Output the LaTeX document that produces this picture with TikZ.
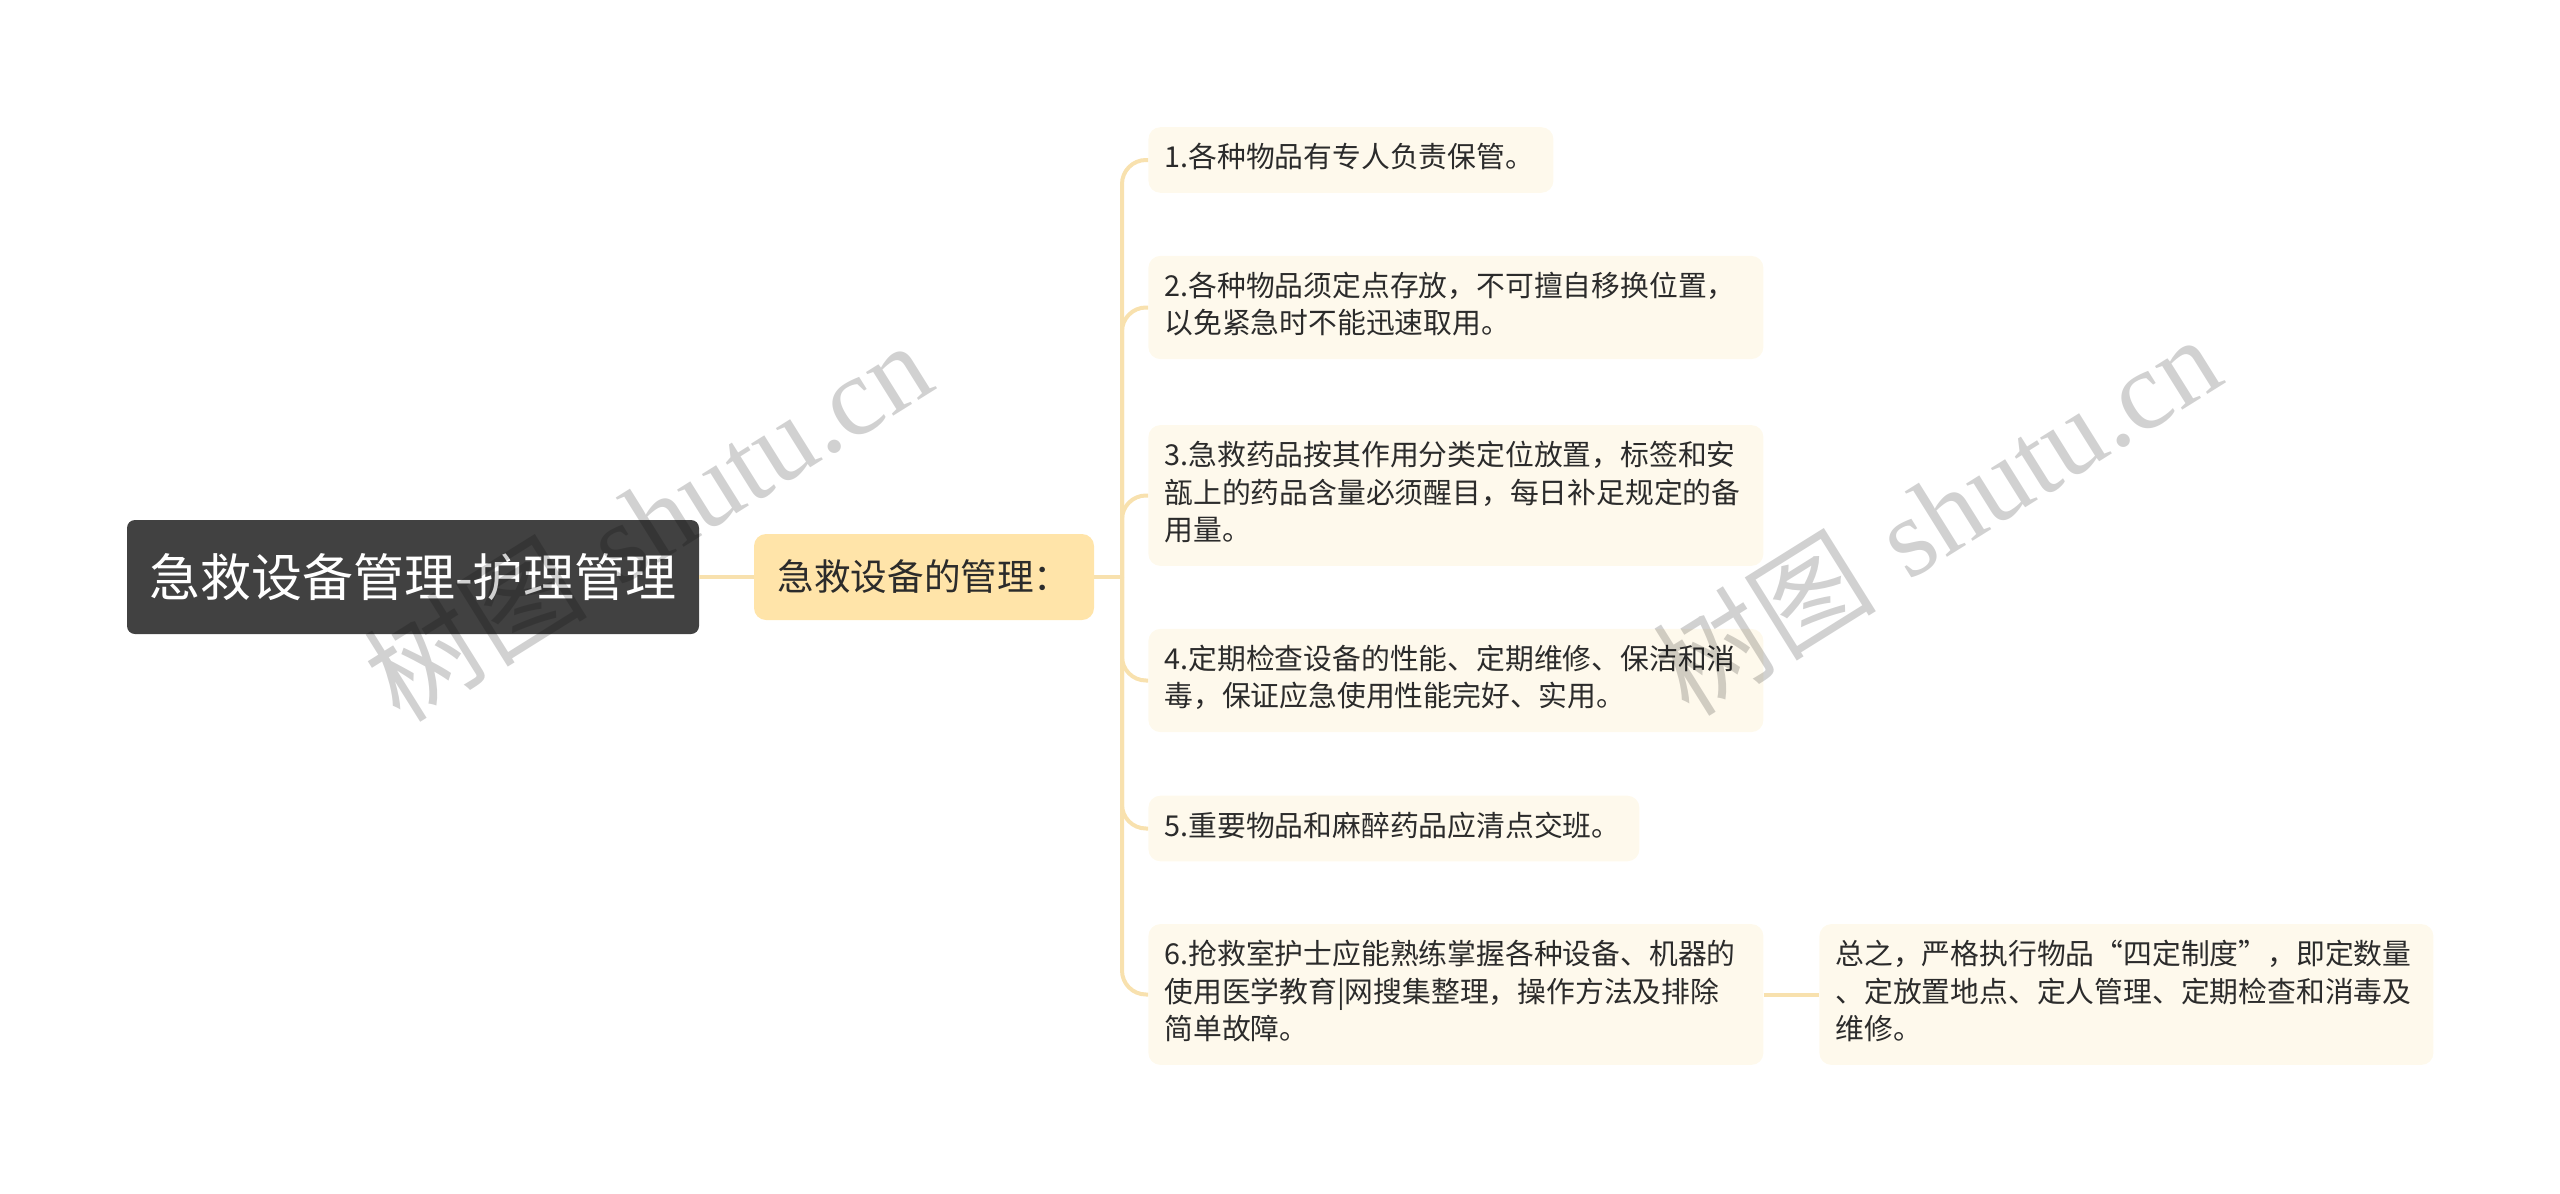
\documentclass[tikz,border=0pt]{standalone}
\usepackage{fontspec}
\usepackage{xcolor}
\usepackage{tikz}
\usetikzlibrary{positioning}
\newfontfamily\cjk{Noto Sans CJK SC}
\newfontfamily\markfont{Liberation Serif}
\definecolor{rootbg}{HTML}{414141}
\definecolor{mainbg}{HTML}{FFE4A9}
\definecolor{leafbg}{HTML}{FEF9EC}
\definecolor{link}{HTML}{F8E1AE}
\definecolor{ink}{HTML}{2B2B2B}
\tikzset{
  rootbox/.style={fill=rootbg, rounded corners=4pt, text=white, font=\cjk\fontsize{25.5}{30}\selectfont,
    minimum width=286pt, minimum height=57pt, inner sep=0pt},
  mainbox/.style={fill=mainbg, rounded corners=6pt, text=ink, font=\cjk\fontsize{18.3}{22}\selectfont,
    minimum width=170pt, minimum height=43pt, inner sep=0pt},
  leaf/.style={fill=leafbg, rounded corners=6pt, text=ink, font=\cjk\fontsize{14.4}{18.8}\selectfont,
    align=left, anchor=west, inner xsep=8pt, inner ysep=7pt,
    execute at begin node=\strut, execute at end node=\strut},
  wire/.style={draw=link, line width=2pt, rounded corners=12pt},
  wmark/.style={text=black, text opacity=0.18, rotate=32, font=\fontsize{56}{60}\selectfont}
}

\begin{document}
\begin{tikzpicture}[x=0.5pt, y=-0.5pt]
  \useasboundingbox (0,0) rectangle (2560,1194);
  \node[rootbox] (root) at (413,577) {急救设备管理-护理管理};
  \node[mainbox] (main) at (924,577) {急救设备的管理：};
  \coordinate (fork) at (1122,577);
  % items
  \node[leaf, text width=186.5pt] (k1) at (1148,160) {1.各种物品有专人负责保管。};
  \node[leaf, text width=291.5pt] (k2) at (1148,307.5) {2.各种物品须定点存放，不可擅自移换位置，\\以免紧急时不能迅速取用。};
  \node[leaf, text width=291.5pt] (k3) at (1148,495.5) {3.急救药品按其作用分类定位放置，标签和安\\瓿上的药品含量必须醒目，每日补足规定的备\\用量。};
  \node[leaf, text width=291.5pt] (k4) at (1148,680.5) {4.定期检查设备的性能、定期维修、保洁和消\\毒，保证应急使用性能完好、实用。};
  \node[leaf, text width=229.5pt] (k5) at (1148,828.5) {5.重要物品和麻醉药品应清点交班。};
  \node[leaf, text width=291.5pt] (k6) at (1148,994.5) {6.抢救室护士应能熟练掌握各种设备、机器的\\使用医学教育|网搜集整理，操作方法及排除\\简单故障。};
  \node[leaf, text width=291pt] (k7) at (1819,994.5) {总之，严格执行物品“四定制度”，即定数量\\、定放置地点、定人管理、定期检查和消毒及\\维修。};
  % links
  \draw[wire] (root) -- (main);
  \draw[wire] (main) -- (fork);
  \foreach \k in {1,...,6}
    \draw[wire] (fork) |- (k\k.west);
  \draw[wire] (k6) -- (k7);
  % watermark
  \node[wmark] (wm1) at (647,520) {{\cjk 树图} \markfont shutu.cn};
  \node[wmark] (wm2) at (1936,514) {{\cjk 树图} \markfont shutu.cn};
\end{tikzpicture}
\end{document}
